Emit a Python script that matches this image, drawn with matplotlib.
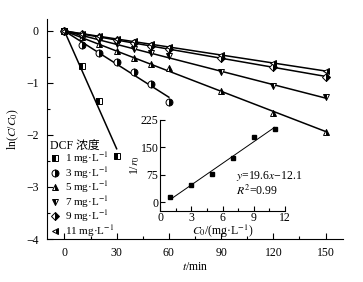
import numpy as np
import matplotlib
matplotlib.use('Agg')
import matplotlib.pyplot as plt

plt.rcParams['font.family'] = ['Liberation Serif', 'Noto Sans CJK SC']
plt.rcParams['mathtext.fontset'] = 'stix'
plt.rcParams['font.size'] = 8.5

# ln(C/C0) vs time for each DCF concentration
t_short = [0, 10, 20, 30]
t_mid = [0, 10, 20, 30, 40, 50, 60]
t_long = [0, 10, 20, 30, 40, 50, 60, 90, 120, 150]

y_1 = [0, -0.67, -1.35, -2.40]
y_3 = [0, -0.27, -0.42, -0.59, -0.78, -1.02, -1.37]
y_5 = [0, -0.12, -0.25, -0.38, -0.52, -0.63, -0.72, -1.15, -1.58, -1.94]
y_7 = [0, -0.09, -0.18, -0.26, -0.35, -0.42, -0.49, -0.79, -1.06, -1.27]
y_9 = [0, -0.06, -0.12, -0.18, -0.24, -0.29, -0.35, -0.52, -0.69, -0.88]
y_11 = [0, -0.05, -0.10, -0.15, -0.20, -0.26, -0.31, -0.46, -0.62, -0.77]

labels = ['1 mg·L$^{-1}$', '3 mg·L$^{-1}$', '5 mg·L$^{-1}$',
          '7 mg·L$^{-1}$', '9 mg·L$^{-1}$', '11 mg·L$^{-1}$']

# inset: 1/r0 vs C0
c0 = [1, 3, 5, 7, 9, 11]
inv_r0 = [13, 46, 78, 122, 178, 201]

series = [(t_short, y_1, 's', 'left'),
          (t_mid, y_3, 'o', 'right'),
          (t_long, y_5, '^', 'right'),
          (t_long, y_7, 'v', 'left'),
          (t_long, y_9, 'D', 'right'),
          (t_long, y_11, '<', 'right')]

fig = plt.figure(figsize=(3.63, 2.82), dpi=100)
ax = fig.add_axes([47/363, 43/282, 296/363, 220/282])

for (t, y, m, fs), lab in zip(series, labels):
    t = np.array(t, float)
    y = np.array(y, float)
    k = np.sum(t*y)/np.sum(t*t)
    ax.plot([0, t[-1]], [0, k*t[-1]], color='black', lw=1.1)
    ax.plot(t, y, linestyle='none', marker=m, ms=5 if m != 'D' else 4,
            fillstyle=fs, markerfacecolor='black', markerfacecoloralt='white',
            markeredgecolor='black', markeredgewidth=0.7, label=lab)

ax.set_xlim(-10, 160)
ax.set_ylim(-4, 0.23)
ax.set_xticks([0, 30, 60, 90, 120, 150])
ax.set_xticks(np.arange(0, 160, 15), minor=True)
ax.set_yticks([0, -1, -2, -3, -4])
ax.set_yticks(np.arange(-4, 0.1, 0.5), minor=True)
ax.tick_params(direction='in', length=4, width=0.8, pad=6)
ax.tick_params(which='minor', direction='in', length=2.5, width=0.8)
ax.spines['top'].set_visible(False)
ax.spines['right'].set_visible(False)
ax.set_xlabel('$t$/min', labelpad=1)
ax.set_ylabel('ln($C$/$C_0$)', labelpad=4)

leg = ax.legend(title='DCF 浓度', loc='lower left', bbox_to_anchor=(-0.015, -0.035),
                frameon=False, handlelength=0.8, handletextpad=0.5,
                labelspacing=-0.12, borderaxespad=0.3, alignment='left',
                fontsize=8, title_fontsize=8.5)

# inset
ax2 = fig.add_axes([160/363, 71/282, 125/363, 91/282])
ax2.patch.set_alpha(0)
xf = np.array(c0, float)
p = np.polyfit(xf, inv_r0, 1)
ax2.plot([1, 11], np.polyval(p, [1, 11]), color='black', lw=0.7)
ax2.plot(c0, inv_r0, 's', color='black', ms=2.5)
ax2.set_xlim(0, 12)
ax2.set_ylim(-24, 225)
ax2.set_xticks([0, 3, 6, 9, 12])
ax2.set_xticks(np.arange(0, 12.1, 1.5), minor=True)
ax2.set_yticks([0, 75, 150, 225])
ax2.tick_params(direction='in', length=3.5, width=0.8, pad=1)
ax2.tick_params(which='minor', direction='in', length=2, width=0.8)
ax2.spines['top'].set_visible(False)
ax2.spines['right'].set_visible(False)
ax2.set_xlabel('$C_0$/(mg·L$^{-1}$)', labelpad=-1)
ax2.set_ylabel('1/$r_0$', labelpad=-1)
ax2.text(7.3, 71, '$y$=19.6$x$−12.1', va='center', ha='left')
ax2.text(7.3, 32, '$R^2$=0.99', va='center', ha='left')

fig.savefig('out.png', dpi=100)
